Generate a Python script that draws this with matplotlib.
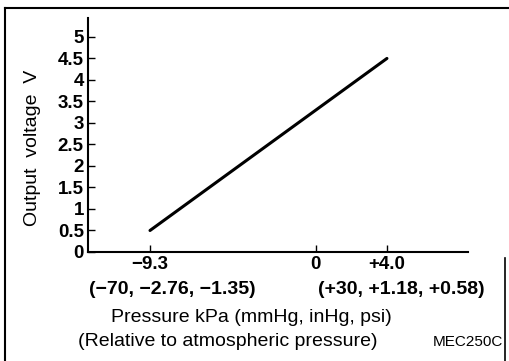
import matplotlib
matplotlib.use("Agg")
import matplotlib.pyplot as plt
from matplotlib.lines import Line2D

# Data
pressure_kpa = [-9.3, 4.0]
output_voltage = [0.5, 4.5]
x_ticks = [-9.3, 0, 4.0]
x_tick_labels = ["\u22129.3", "0", "+4.0"]
y_ticks = [0, 0.5, 1, 1.5, 2, 2.5, 3, 3.5, 4, 4.5, 5]
y_tick_labels = ["0", "0.5", "1", "1.5", "2", "2.5", "3", "3.5", "4", "4.5", "5"]

plt.rcParams['font.family'] = ['Liberation Sans', 'DejaVu Sans']

W, H = 509, 361
fig = plt.figure(figsize=(W/100, H/100), dpi=100)
ax = fig.add_axes([88/W, 1-252/H, (468-88)/W, (252-18)/H])

ax.plot(pressure_kpa, output_voltage, color='black', lw=2.2, solid_capstyle='round')
ax.set_xlim(-12.78, 8.55)
ax.set_ylim(0, 5.44)

for s in ['top', 'right']:
    ax.spines[s].set_visible(False)
for s in ['left', 'bottom']:
    ax.spines[s].set_linewidth(1.5)

ax.set_yticks(y_ticks)
ax.set_yticklabels(y_tick_labels, fontsize=13.5, fontweight='bold')
ax.set_xticks(x_ticks)
ax.set_xticklabels(x_tick_labels, fontsize=13.5, fontweight='bold')
ax.tick_params(axis='y', direction='in', length=5, width=1, pad=3)
ax.tick_params(axis='x', direction='in', length=5, width=1, pad=3)

ax.set_ylabel("Output  voltage  V", fontsize=14)
ax.yaxis.set_label_coords(-(88-41)/380, 0.5 - 13/234)

def px(x, y):
    return x/W, 1-y/H

fig.text(*px(172, 290), "(\u221270, \u22122.76, \u22121.35)", fontsize=14, fontweight='bold', ha='center', va='center')
fig.text(*px(401, 290), "(+30, +1.18, +0.58)", fontsize=14, fontweight='bold', ha='center', va='center')
fig.text(*px(251, 318), "Pressure kPa (mmHg, inHg, psi)", fontsize=14, ha='center', va='center')
fig.text(*px(228, 341), "(Relative to atmospheric pressure)", fontsize=14, ha='center', va='center')
fig.text(*px(468, 342), "MEC250C", fontsize=11, ha='center', va='center')

# border lines
fig.add_artist(Line2D([5/W, 1], [1-8/H, 1-8/H], color='black', lw=1.5, transform=fig.transFigure))
fig.add_artist(Line2D([5/W, 5/W], [0, 1-8/H], color='black', lw=1.5, transform=fig.transFigure))
fig.add_artist(Line2D([505/W, 505/W], [0, 1-258/H], color='black', lw=1.2, transform=fig.transFigure))

fig.savefig("out.png", dpi=100)
